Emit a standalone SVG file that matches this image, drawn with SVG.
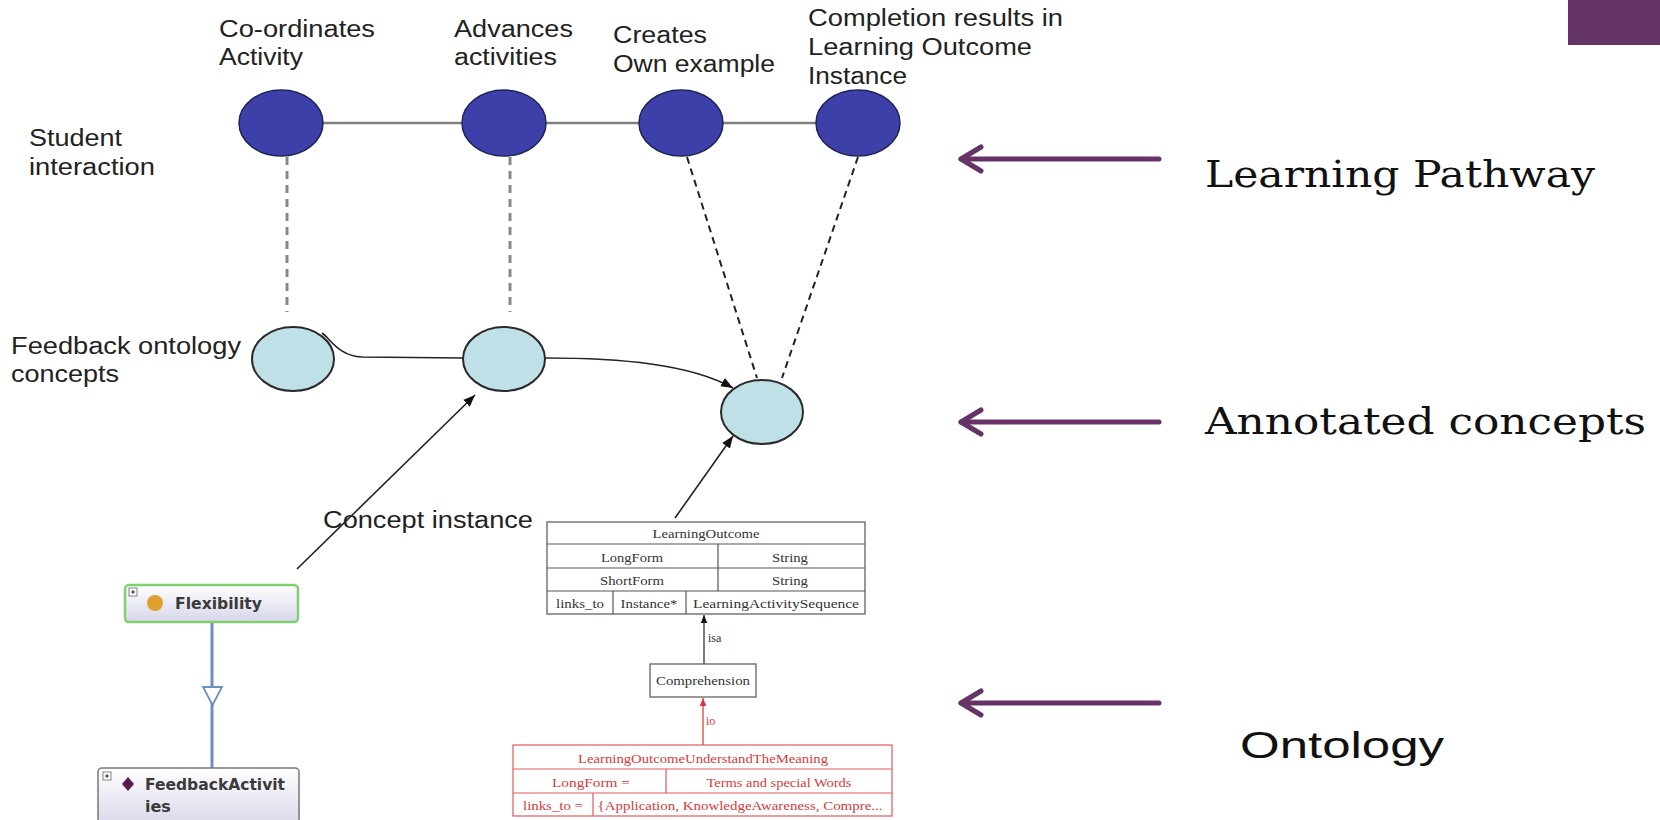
<svg xmlns="http://www.w3.org/2000/svg" width="1660" height="820" viewBox="0 0 1660 820">
<style>
.lbl{font-family:"Liberation Sans",Arial,sans-serif;font-size:23px;fill:#222}
.big{font-family:"DejaVu Serif","Liberation Serif",serif;font-size:38px;fill:#111}
.ont{font-family:"Liberation Sans",Arial,sans-serif;font-size:36px;fill:#111}
.top{fill:#3c40a8;stroke:#20235a;stroke-width:1.5}
.mid{fill:#bfe0e6;stroke:#2a2a2a;stroke-width:2}
.tb{fill:#fff;stroke:#555;stroke-width:1.2}
.tt{font-family:"Liberation Serif","Times New Roman",serif;font-size:13px;fill:#333;text-anchor:middle}
.rb{fill:#fff;stroke:#e05a5a;stroke-width:1.2}
.rt{font-family:"Liberation Serif","Times New Roman",serif;font-size:13px;fill:#d83a3a;text-anchor:middle}
.pg{font-family:"DejaVu Sans","Liberation Sans",sans-serif;font-weight:bold;font-size:16px;fill:#3a3a3a}
.pur{stroke:#663366;stroke-width:5;fill:none;stroke-linecap:round}
.gd{stroke:#888;stroke-width:3;stroke-dasharray:8 6;fill:none}
.bd{stroke:#222;stroke-width:2;stroke-dasharray:7 5;fill:none}
.bl{stroke:#222;stroke-width:1.6;fill:none}
</style>
<defs>
<marker id="arr" markerUnits="userSpaceOnUse" markerWidth="12" markerHeight="12" viewBox="0 0 10 10" refX="10" refY="5" orient="auto"><path d="M0,1 L10,5 L0,9 z" fill="#111"/></marker>
<marker id="sarr" markerUnits="userSpaceOnUse" markerWidth="8" markerHeight="8" viewBox="0 0 10 10" refX="10" refY="5" orient="auto"><path d="M0,1 L10,5 L0,9 z" fill="#111"/></marker>
<marker id="rarr" markerUnits="userSpaceOnUse" markerWidth="8" markerHeight="8" viewBox="0 0 10 10" refX="10" refY="5" orient="auto"><path d="M0,1 L10,5 L0,9 z" fill="#e03030"/></marker>
<marker id="chev" markerUnits="userSpaceOnUse" markerWidth="32" markerHeight="32" viewBox="-4 -16 32 32" refX="22" refY="0" orient="auto"><path d="M2,-12 L22,0 L2,12" fill="none" stroke="#663366" stroke-width="5" stroke-linecap="round" stroke-linejoin="round"/></marker>
<linearGradient id="gbox" x1="0" y1="0" x2="0" y2="1"><stop offset="0" stop-color="#ffffff"/><stop offset="1" stop-color="#d6d6ea"/></linearGradient>
</defs>

<rect id="corner" x="1568" y="0" width="92" height="45" fill="#663366"/>

<g id="connectors">
<line x1="323" y1="123" x2="816" y2="123" stroke="#808080" stroke-width="2.5"/>
<line class="gd" x1="287" y1="157" x2="287" y2="312"/>
<line class="gd" x1="510" y1="157" x2="510" y2="312"/>
<line class="bd" x1="687" y1="157" x2="757" y2="378"/>
<line class="bd" x1="858" y1="157" x2="782" y2="378"/>
<path class="bl" d="M322,333 C330,338 338,356 362,357 L463,358"/>
<path class="bl" d="M545,358 C620,358 690,364 733,388" marker-end="url(#arr)"/>
<line class="bl" x1="297" y1="569" x2="475" y2="395" marker-end="url(#arr)"/>
<line class="bl" x1="675" y1="518" x2="733" y2="436" marker-end="url(#arr)"/>
<line x1="704" y1="664" x2="704" y2="615" stroke="#222" stroke-width="1.2" marker-end="url(#sarr)"/>
<text x="708" y="642" font-family="Liberation Serif,serif" font-size="12" fill="#333">isa</text>
<line x1="703" y1="745" x2="703" y2="698" stroke="#e03030" stroke-width="1.2" marker-end="url(#rarr)"/>
<text x="706" y="725" font-family="Liberation Serif,serif" font-size="12" fill="#d83a3a">io</text>
<line x1="212" y1="622" x2="212" y2="769" stroke="#6a8fc0" stroke-width="3"/>
<path d="M203,687 L222,687 L212.5,705 z" fill="#fff" stroke="#6a8fc0" stroke-width="1.8"/>
<path class="pur" d="M1159,159 L961,159" marker-end="url(#chev)"/>
<path class="pur" d="M1159,422 L961,422" marker-end="url(#chev)"/>
<path class="pur" d="M1159,703 L961,703" marker-end="url(#chev)"/>
</g>

<g id="labels">
<text class="lbl" x="29" y="146" textLength="93" lengthAdjust="spacingAndGlyphs">Student</text>
<text class="lbl" x="29" y="175" textLength="126" lengthAdjust="spacingAndGlyphs">interaction</text>
<text class="lbl" x="11" y="354" textLength="230" lengthAdjust="spacingAndGlyphs">Feedback ontology</text>
<text class="lbl" x="11" y="382" textLength="108" lengthAdjust="spacingAndGlyphs">concepts</text>
<text class="lbl" x="323" y="528" textLength="210" lengthAdjust="spacingAndGlyphs">Concept instance</text>
<text class="big" x="1205" y="187" textLength="390" lengthAdjust="spacingAndGlyphs">Learning Pathway</text>
<text class="big" x="1205" y="434" textLength="441" lengthAdjust="spacingAndGlyphs">Annotated concepts</text>
<text class="ont" x="1240" y="758" textLength="204" lengthAdjust="spacingAndGlyphs">Ontology</text>
</g>

<g id="n1">
<ellipse class="top" cx="281" cy="123" rx="42" ry="33"/>
<text class="lbl" x="219" y="37" textLength="156" lengthAdjust="spacingAndGlyphs">Co-ordinates</text>
<text class="lbl" x="219" y="65" textLength="84" lengthAdjust="spacingAndGlyphs">Activity</text>
</g>
<g id="n2">
<ellipse class="top" cx="504" cy="123" rx="42" ry="33"/>
<text class="lbl" x="454" y="37" textLength="119" lengthAdjust="spacingAndGlyphs">Advances</text>
<text class="lbl" x="454" y="65" textLength="103" lengthAdjust="spacingAndGlyphs">activities</text>
</g>
<g id="n3">
<ellipse class="top" cx="681" cy="123" rx="42" ry="33"/>
<text class="lbl" x="613" y="43" textLength="94" lengthAdjust="spacingAndGlyphs">Creates</text>
<text class="lbl" x="613" y="72" textLength="162" lengthAdjust="spacingAndGlyphs">Own example</text>
</g>
<g id="n4">
<ellipse class="top" cx="858" cy="123" rx="42" ry="33"/>
<text class="lbl" x="808" y="26" textLength="255" lengthAdjust="spacingAndGlyphs">Completion results in</text>
<text class="lbl" x="808" y="55" textLength="224" lengthAdjust="spacingAndGlyphs">Learning Outcome</text>
<text class="lbl" x="808" y="84" textLength="99" lengthAdjust="spacingAndGlyphs">Instance</text>
</g>
<g id="c1"><ellipse class="mid" cx="293" cy="359" rx="41" ry="32"/></g>
<g id="c2"><ellipse class="mid" cx="504" cy="359" rx="41" ry="32"/></g>
<g id="c3"><ellipse class="mid" cx="762" cy="412" rx="41" ry="32"/></g>

<g id="learningOutcome">
<rect class="tb" x="547" y="522" width="318" height="92"/>
<line x1="547" y1="544" x2="865" y2="544" stroke="#555" stroke-width="1.2"/>
<line x1="547" y1="568" x2="865" y2="568" stroke="#555" stroke-width="1.2"/>
<line x1="547" y1="591" x2="865" y2="591" stroke="#555" stroke-width="1.2"/>
<line x1="718" y1="544" x2="718" y2="591" stroke="#555" stroke-width="1.2"/>
<line x1="613" y1="591" x2="613" y2="614" stroke="#555" stroke-width="1.2"/>
<line x1="686" y1="591" x2="686" y2="614" stroke="#555" stroke-width="1.2"/>
<text class="tt" x="706" y="538" textLength="107" lengthAdjust="spacingAndGlyphs">LearningOutcome</text>
<text class="tt" x="632" y="562" textLength="62" lengthAdjust="spacingAndGlyphs">LongForm</text>
<text class="tt" x="790" y="562" textLength="36" lengthAdjust="spacingAndGlyphs">String</text>
<text class="tt" x="632" y="585" textLength="64" lengthAdjust="spacingAndGlyphs">ShortForm</text>
<text class="tt" x="790" y="585" textLength="36" lengthAdjust="spacingAndGlyphs">String</text>
<text class="tt" x="580" y="608" textLength="48" lengthAdjust="spacingAndGlyphs">links_to</text>
<text class="tt" x="649" y="608" textLength="57" lengthAdjust="spacingAndGlyphs">Instance*</text>
<text class="tt" x="776" y="608" textLength="166" lengthAdjust="spacingAndGlyphs">LearningActivitySequence</text>
</g>

<g id="comprehension">
<rect class="tb" x="650" y="664" width="106" height="33"/>
<text class="tt" x="703" y="685" textLength="94" lengthAdjust="spacingAndGlyphs">Comprehension</text>
</g>

<g id="instance">
<rect class="rb" x="513" y="745" width="379" height="71"/>
<line x1="513" y1="769" x2="892" y2="769" stroke="#e05a5a" stroke-width="1.2"/>
<line x1="513" y1="793" x2="892" y2="793" stroke="#e05a5a" stroke-width="1.2"/>
<line x1="666" y1="769" x2="666" y2="793" stroke="#e05a5a" stroke-width="1.2"/>
<line x1="593" y1="793" x2="593" y2="816" stroke="#e05a5a" stroke-width="1.2"/>
<text class="rt" x="703" y="763" textLength="250" lengthAdjust="spacingAndGlyphs">LearningOutcomeUnderstandTheMeaning</text>
<text class="rt" x="591" y="787" textLength="78" lengthAdjust="spacingAndGlyphs">LongForm =</text>
<text class="rt" x="779" y="787" textLength="145" lengthAdjust="spacingAndGlyphs">Terms and special Words</text>
<text class="rt" x="553" y="810" textLength="60" lengthAdjust="spacingAndGlyphs">links_to =</text>
<text class="rt" x="740" y="810" textLength="285" lengthAdjust="spacingAndGlyphs">{Application, KnowledgeAwareness, Compre...</text>
</g>

<g id="flexibility">
<rect x="125" y="585" width="173" height="37" rx="4" fill="url(#gbox)" stroke="#80d070" stroke-width="2.5"/>
<rect x="129" y="588" width="8" height="8" fill="#fff" stroke="#666" stroke-width="0.8"/>
<path d="M131,592 h4 M133,590 v4" stroke="#333" stroke-width="1"/>
<circle cx="155" cy="603" r="8" fill="#e0a030"/>
<text class="pg" x="175" y="609" textLength="87" lengthAdjust="spacingAndGlyphs">Flexibility</text>
</g>

<g id="feedbackActivities">
<rect x="98" y="768" width="201" height="60" rx="4" fill="url(#gbox)" stroke="#777" stroke-width="1.5"/>
<rect x="103" y="772" width="8" height="8" fill="#fff" stroke="#666" stroke-width="0.8"/>
<path d="M105,776 h4 M107,774 v4" stroke="#333" stroke-width="1"/>
<path d="M128,777 L134,784 L128,791 L122,784 z" fill="#5a1a50"/>
<text class="pg" x="145" y="790" textLength="140" lengthAdjust="spacingAndGlyphs">FeedbackActivit</text>
<text class="pg" x="145" y="812">ies</text>
</g>
</svg>
